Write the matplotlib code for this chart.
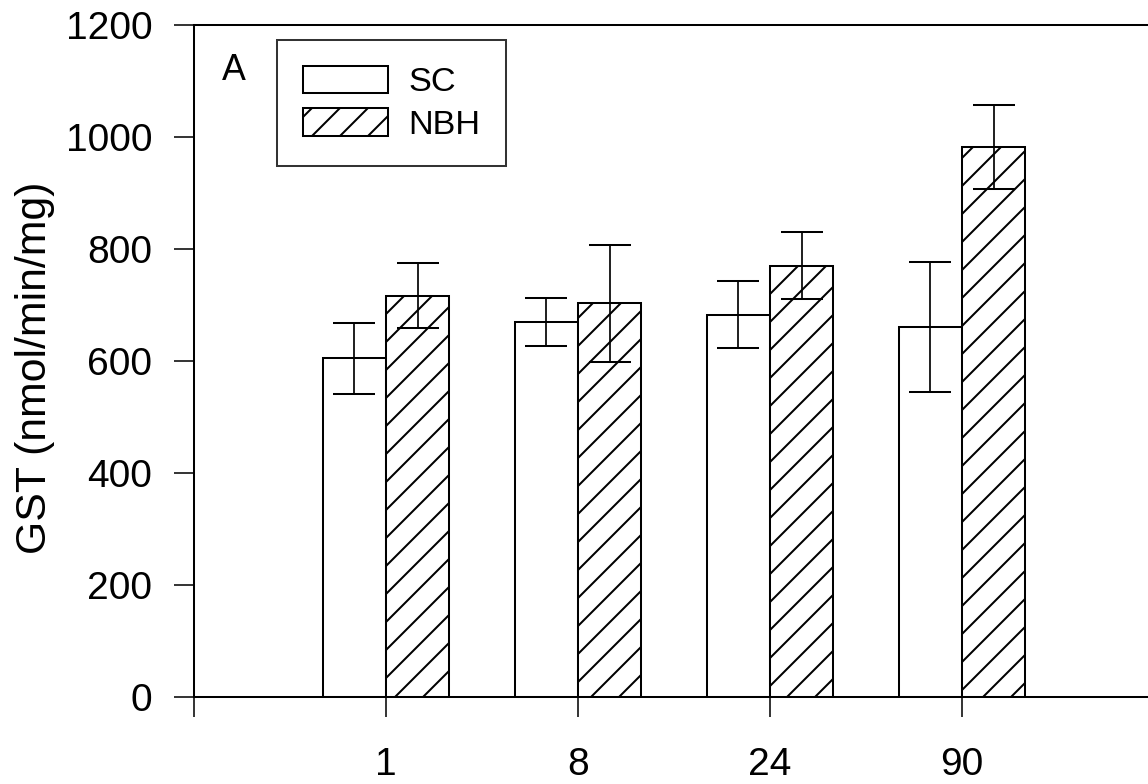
import matplotlib
matplotlib.use('Agg')
import matplotlib.pyplot as plt
import numpy as np
from matplotlib.backend_bases import GraphicsContextBase

# sparser hatch than matplotlib's default
_hatch_path = GraphicsContextBase.get_hatch_path
GraphicsContextBase.get_hatch_path = lambda self, density=8.0: _hatch_path(self, density)

plt.rcParams['font.family'] = ['Liberation Sans', 'DejaVu Sans']
plt.rcParams['hatch.linewidth'] = 1.3

groups = ['1', '8', '24', '90']
sc_mean = [605, 670, 683, 661]
sc_err = [63, 43, 60, 116]
nbh_mean = [717, 703, 770, 983]
nbh_err = [58, 105, 60, 75]

x = np.arange(1, len(groups) + 1)
w = 0.33

fig = plt.figure(figsize=(10.25, 7), dpi=112)
ax = fig.add_axes([0.169, 0.111, 0.8362, 0.857])

ax.bar(x - w / 2, sc_mean, w, color='white', edgecolor='black', linewidth=1.3, label='SC')
ax.bar(x + w / 2, nbh_mean, w, color='white', edgecolor='black', linewidth=1.3,
       hatch='/', label='NBH')
ax.errorbar(x - w / 2, sc_mean, yerr=sc_err, fmt='none', ecolor='black',
            elinewidth=1.1, capsize=13.5, capthick=1.3)
ax.errorbar(x + w / 2, nbh_mean, yerr=nbh_err, fmt='none', ecolor='black',
            elinewidth=1.1, capsize=13.5, capthick=1.3)

ax.set_xlim(0, 5)
ax.set_ylim(0, 1200)
ax.set_xticks([0, 1, 2, 3, 4, 5])
ax.set_xticklabels([''] + groups + [''])
ax.set_yticks(np.arange(0, 1201, 200))

ax.tick_params(axis='both', direction='out', length=12.9, width=1.0, labelsize=25)
ax.tick_params(axis='y', pad=14)
ax.tick_params(axis='x', pad=19)
for s in ax.spines.values():
    s.set_linewidth(1.3)

ax.set_ylabel('GST (nmol/min/mg)', fontsize=27.5)
ax.yaxis.set_label_coords(-0.145, 0.49)

ax.text(0.029, 0.918, 'A', transform=ax.transAxes, fontsize=23, ha='left', va='baseline')

leg = ax.legend(loc='upper left', bbox_to_anchor=(0.0865, 0.978), borderaxespad=0,
                fontsize=22, handlelength=2.48, handleheight=0.85, handletextpad=0.61,
                borderpad=0.75, labelspacing=0.3, fancybox=False, frameon=True)
leg.get_frame().set_edgecolor('black')
leg.get_frame().set_linewidth(1.3)

fig.savefig('out.png', dpi=112)
